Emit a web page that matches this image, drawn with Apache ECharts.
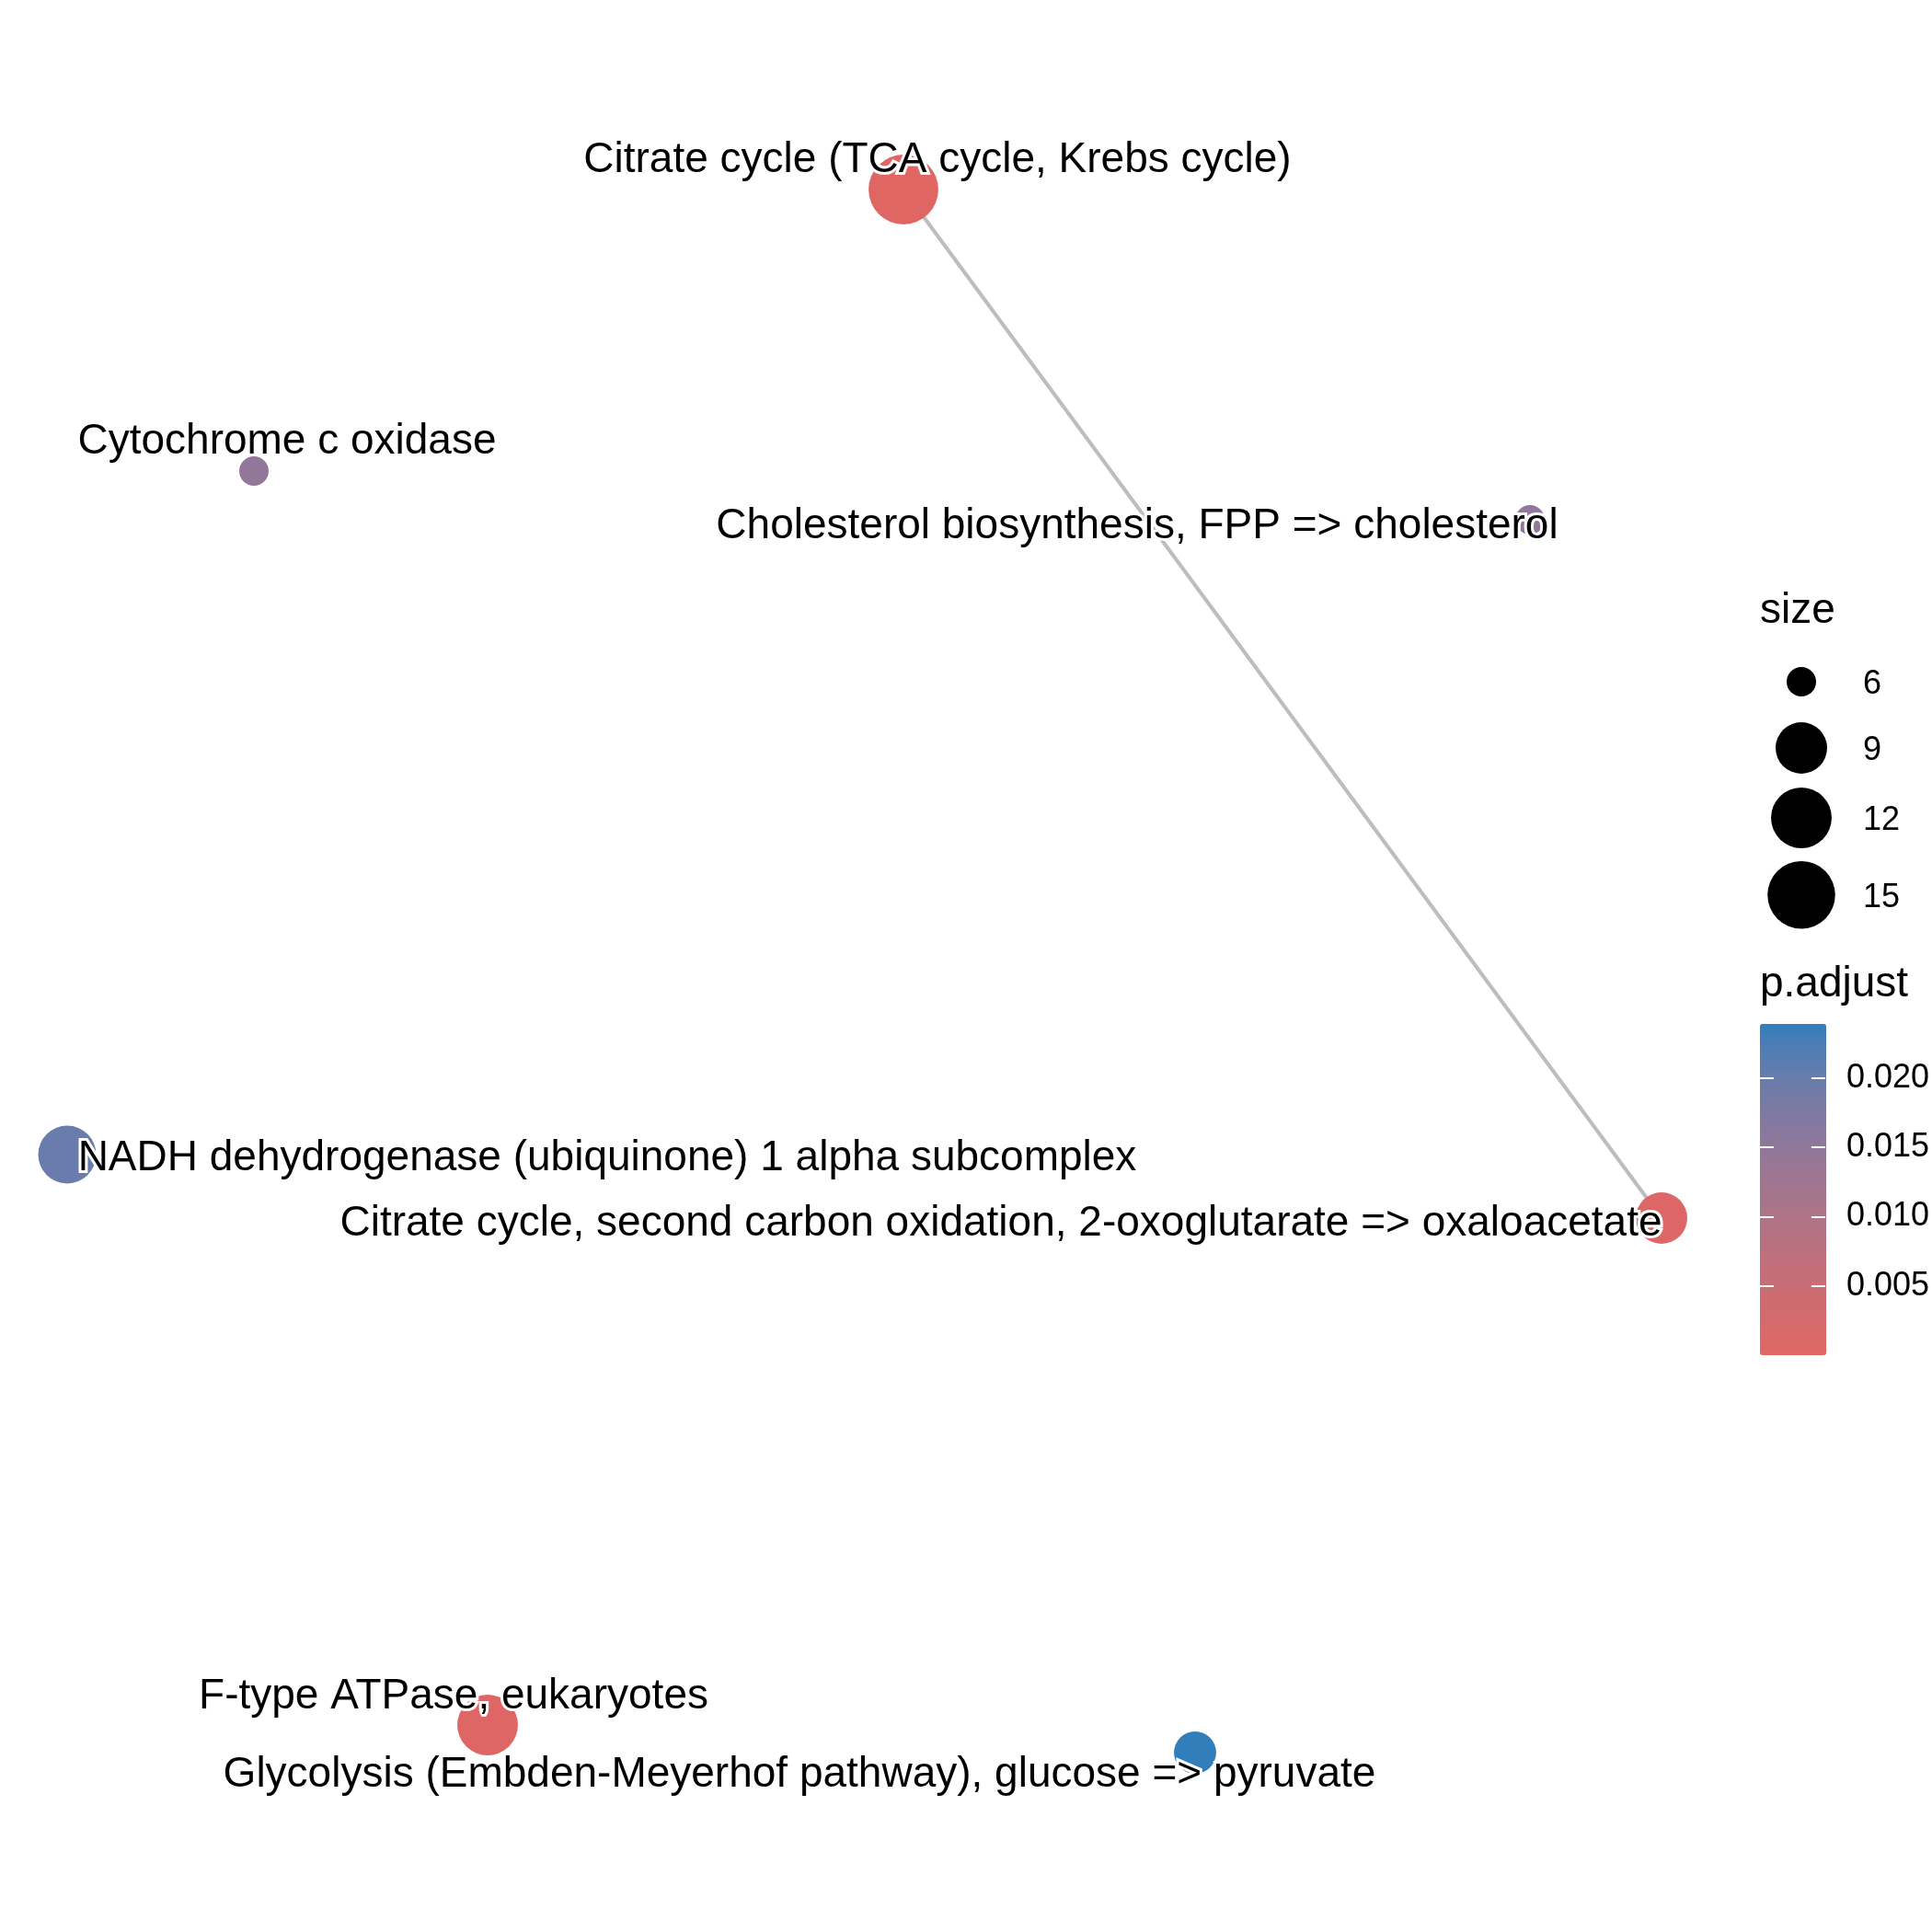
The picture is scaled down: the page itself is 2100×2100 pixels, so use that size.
<!DOCTYPE html>
<html>
<head>
<meta charset="utf-8">
<script src="https://cdn.jsdelivr.net/npm/echarts@6/dist/echarts.min.js"></script>
<style>html,body{margin:0;padding:0;background:#fff}#c{width:2100px;height:2100px}</style>
</head>
<body>
<div id="c"></div>
<script>
// ---- data ----
const nodeNames = [
  'Citrate cycle (TCA cycle, Krebs cycle)',
  'Cytochrome c oxidase',
  'Cholesterol biosynthesis, FPP => cholesterol',
  'NADH dehydrogenase (ubiquinone) 1 alpha subcomplex',
  'Citrate cycle, second carbon oxidation, 2-oxoglutarate => oxaloacetate',
  'F-type ATPase, eukaryotes',
  'Glycolysis (Embden-Meyerhof pathway), glucose => pyruvate'
];
const layoutX = [9.82, 2.76, 16.63, 0.73, 18.06, 5.30, 12.99];
const layoutY = [18.94, 15.88, 15.35, 8.45, 7.76, 2.25, 1.95];
const geneCount = [16, 6, 6, 11, 9, 12, 7];
const pAdjust = [0.00002, 0.0145, 0.0148, 0.0198, 0.0008, 0.0005, 0.0239];
const edgeSource = ['Citrate cycle (TCA cycle, Krebs cycle)'];
const edgeTarget = ['Citrate cycle, second carbon oxidation, 2-oxoglutarate => oxaloacetate'];
const sizeBreaks = [6, 9, 12, 15];
const pBreaks = [0.005, 0.010, 0.015, 0.020];

// ---- style config (label nudges in px) ----
const labelOffsets = [[37,-32],[36,-32],[-427,7],[587,4],[-718,6],[-37,-31],[-430,24]];
const FONT = 'Liberation Sans, Arial, Helvetica, sans-serif';
const LOW = '#e06663', HIGH = '#327eba';

// size scale (area-like, as ggplot scale_size)
const sMin = Math.min(...geneCount), sMax = Math.max(...geneCount);
const dMin = 32, dMax = 75.8;
function diam(v){ return dMin + (dMax - dMin) * Math.sqrt(Math.max(0,(v - sMin)/(sMax - sMin))); }

// Lab interpolation for colour stops
function hex2rgb(h){h=h.replace('#','');return [0,2,4].map(i=>parseInt(h.substr(i,2),16)/255);}
function lin(c){return c<=0.04045?c/12.92:Math.pow((c+0.055)/1.055,2.4);}
function delin(c){return c<=0.0031308?12.92*c:1.055*Math.pow(c,1/2.4)-0.055;}
function rgb2lab(rgb){const [r,g,b]=rgb.map(lin);
  let X=(0.4124*r+0.3576*g+0.1805*b)/0.95047, Y=(0.2126*r+0.7152*g+0.0722*b), Z=(0.0193*r+0.1192*g+0.9505*b)/1.08883;
  const f=t=>t>0.008856?Math.cbrt(t):7.787*t+16/116;
  const fx=f(X),fy=f(Y),fz=f(Z);return [116*fy-16,500*(fx-fy),200*(fy-fz)];}
function lab2hex(lab){const fy=(lab[0]+16)/116, fx=fy+lab[1]/500, fz=fy-lab[2]/200;
  const fi=t=>t*t*t>0.008856?t*t*t:(t-16/116)/7.787;
  const X=fi(fx)*0.95047, Y=fi(fy), Z=fi(fz)*1.08883;
  let r=3.2406*X-1.5372*Y-0.4986*Z, g=-0.9689*X+1.8758*Y+0.0415*Z, b=0.0557*X-0.2040*Y+1.0570*Z;
  return '#'+[r,g,b].map(c=>{c=Math.round(Math.min(1,Math.max(0,delin(c)))*255);return c.toString(16).padStart(2,'0');}).join('');}
const labLo = rgb2lab(hex2rgb(LOW)), labHi = rgb2lab(hex2rgb(HIGH));
const colorStops = [];
for (let i=0;i<=20;i++){const t=i/20;colorStops.push(lab2hex(labLo.map((v,k)=>v+(labHi[k]-v)*t)));}

const pMin = Math.min(...pAdjust), pMax = Math.max(...pAdjust);

// size legend key centres (px) from key heights
const keyTop = 705;
const keyCenters = [];
{ let acc = keyTop; sizeBreaks.forEach(b=>{const h=Math.max(72, diam(b)+14); keyCenters.push(acc+h/2); acc+=h;}); }

const nodeData = nodeNames.map((n,i)=>({name:n, value:[layoutX[i], layoutY[i], geneCount[i], pAdjust[i]]}));
const labelData = nodeNames.map((n,i)=>({name:n, value:[layoutX[i], layoutY[i]], label:{offset:labelOffsets[i]}}));
const idx = n => nodeNames.indexOf(n);
const edgeData = edgeSource.map((s,i)=>({coords:[[layoutX[idx(s)],layoutY[idx(s)]],[layoutX[idx(edgeTarget[i])],layoutY[idx(edgeTarget[i])]]]}));

const chart = echarts.init(document.getElementById('c'), null, {renderer:'canvas'});
const hiddenAxis = {show:false};
const tickStyle = {show:true,inside:true,length:15,lineStyle:{color:'#ffffff',width:2},customValues:pBreaks};
chart.setOption({
  backgroundColor:'#ffffff',
  animation:false,
  grid:[
    {left:0, top:0, width:1900, height:2100},
    {left:1913, top:0, width:90, height:2100},
    {left:1913, top:1113, width:72, height:360, z:10},
    {left:1913, top:1113, width:72, height:360, z:10}
  ],
  xAxis:[
    Object.assign({gridIndex:0,type:'value',min:0,max:19},hiddenAxis),
    Object.assign({gridIndex:1,type:'value',min:0,max:1},hiddenAxis),
    Object.assign({gridIndex:2,type:'value',min:0,max:1},hiddenAxis),
    Object.assign({gridIndex:3,type:'value',min:0,max:1},hiddenAxis)
  ],
  yAxis:[
    Object.assign({gridIndex:0,type:'value',min:0,max:21},hiddenAxis),
    Object.assign({gridIndex:1,type:'value',min:0,max:2100,inverse:true},hiddenAxis),
    {gridIndex:2,type:'value',min:pMin,max:pMax,position:'left',z:20,
      axisLine:{show:false,onZero:false},splitLine:{show:false},
      axisLabel:{show:true,customValues:pBreaks,color:'rgba(0,0,0,0)',formatter:v=>Number(v).toFixed(3)},
      axisTick:tickStyle},
    {gridIndex:3,type:'value',min:pMin,max:pMax,position:'right',z:20,
      axisLine:{show:false,onZero:false},splitLine:{show:false},
      axisTick:tickStyle,
      axisLabel:{show:true,margin:23,customValues:pBreaks,color:'#000',fontSize:36,fontFamily:FONT,
        padding:[6,0,0,0], formatter:v=>Number(v).toFixed(3)}}
  ],
  visualMap:{
    type:'continuous', seriesIndex:1, dimension:3, min:pMin, max:pMax, z:1,
    inRange:{color:colorStops}, left:1913, top:1113, itemWidth:72, itemHeight:360,
    padding:0, calculable:false, text:null, hoverLink:false, orient:'vertical'
  },
  graphic:[
    {type:'text', left:1913, top:661-20, z:10, style:{text:'size', font:'46px '+FONT, fill:'#000'}, silent:true},
    {type:'text', left:1913, top:1077-30, z:10, style:{text:'p.adjust', font:'46px '+FONT, fill:'#000'}, silent:true}
  ],
  series:[
    {type:'lines', coordinateSystem:'cartesian2d', xAxisIndex:0, yAxisIndex:0, z:1, silent:true,
      lineStyle:{color:'#bdbdbd', width:4, opacity:1}, data:edgeData},
    {type:'scatter', xAxisIndex:0, yAxisIndex:0, z:2, silent:true,
      symbolSize:v=>diam(v[2]), itemStyle:{opacity:1}, data:nodeData},
    {type:'scatter', xAxisIndex:0, yAxisIndex:0, z:5, silent:true, symbolSize:1,
      itemStyle:{color:'rgba(0,0,0,0)', opacity:1},
      label:{show:true, position:'inside', align:'center', verticalAlign:'middle', formatter:p=>p.name,
        color:'#000000', opacity:1, fontSize:46, fontFamily:FONT, textBorderColor:'#ffffff', textBorderWidth:6},
      data:labelData},
    {type:'scatter', xAxisIndex:1, yAxisIndex:1, z:2, silent:true,
      symbolSize:v=>diam(v[2]), itemStyle:{color:'#000000', opacity:1},
      label:{show:true, position:'inside', align:'left', verticalAlign:'middle', offset:[67,3],
        formatter:p=>String(p.value[2]), color:'#000000', opacity:1, fontSize:36, fontFamily:FONT},
      data:sizeBreaks.map((b,i)=>({value:[0.5, keyCenters[i], b]}))}
  ]
});
</script>
</body>
</html>
